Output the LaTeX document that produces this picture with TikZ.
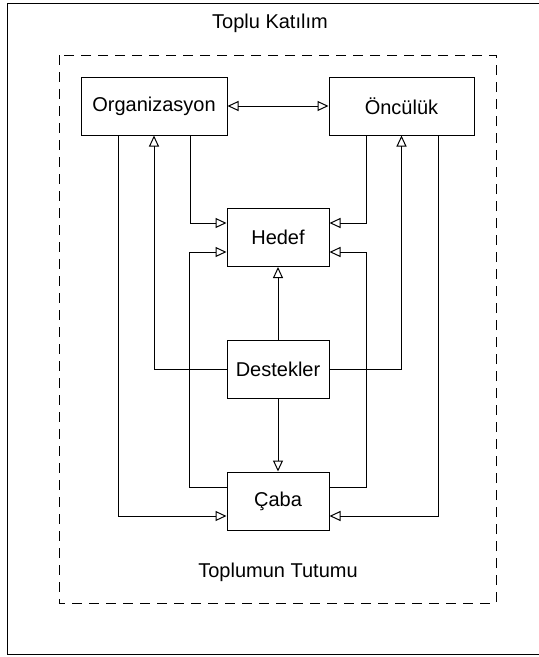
\documentclass[tikz,border=0pt]{standalone}
\usepackage{fontspec}
\setmainfont{Liberation Sans}
\usetikzlibrary{arrows.meta, positioning}

\begin{document}
\begin{tikzpicture}[
        x=1pt, y=-1pt,
        line width=1pt,
        every node/.style={font=\fontsize{20}{24}\selectfont},
        factor/.style={rectangle, draw=black, line width=1pt, minimum width=102pt, minimum height=58pt, inner sep=0pt, text centered},
        link/.style={draw=black, line width=1pt, -{Triangle[open, length=11pt, width=10pt]}},
    ]
        \useasboundingbox (0,0) rectangle (539,657);

        % Frames
        \draw[line width=1pt] (7,3) rectangle (545,654);
        \draw[dash pattern=on 10pt off 7pt] (59,55) rectangle (496,603);
        \node (title) at (270,23) {Toplu Katılım};
        \node (attitude) at (278,572) {Toplumun Tutumu};

        % Boxes
        \node[factor, minimum width=146pt] (org) at (154,106) {Organizasyon};
        \node[factor, minimum width=145pt] (lead) at (401.5,106) {Öncülük};
        \node[factor] (goal) at (278,237.5) {Hedef};
        \node[factor] (support) at (278,369) {Destekler};
        \node[factor] (effort) at (278,501) {Çaba};

        % Top link
        \draw[link, {Triangle[open, length=11pt, width=10pt]}-{Triangle[open, length=11pt, width=10pt]}] (org) -- (lead);

        % Left side
        \draw[link] ([xshift=36pt]org.south) |- ([yshift=14.5pt]goal.west);
        \draw[link] ([yshift=14pt]effort.west) -| ([xshift=-37pt,yshift=-14.5pt]goal.west) -- ([yshift=-14.5pt]goal.west);
        \draw[link] (support.west) -| (org.south);
        \draw[link] ([xshift=-36pt]org.south) |- ([yshift=-15pt]effort.west);

        % Right side
        \draw[link] ([xshift=-35.5pt]lead.south) |- ([yshift=14.5pt]goal.east);
        \draw[link] ([yshift=14pt]effort.east) -| ([xshift=37pt,yshift=-14.5pt]goal.east) -- ([yshift=-14.5pt]goal.east);
        \draw[link] (support.east) -| (lead.south);
        \draw[link] ([xshift=36.5pt]lead.south) |- ([yshift=-15pt]effort.east);

        % Middle
        \draw[link] (support) -- (goal);
        \draw[link] (support) -- (effort);

    \end{tikzpicture}
\end{document}
